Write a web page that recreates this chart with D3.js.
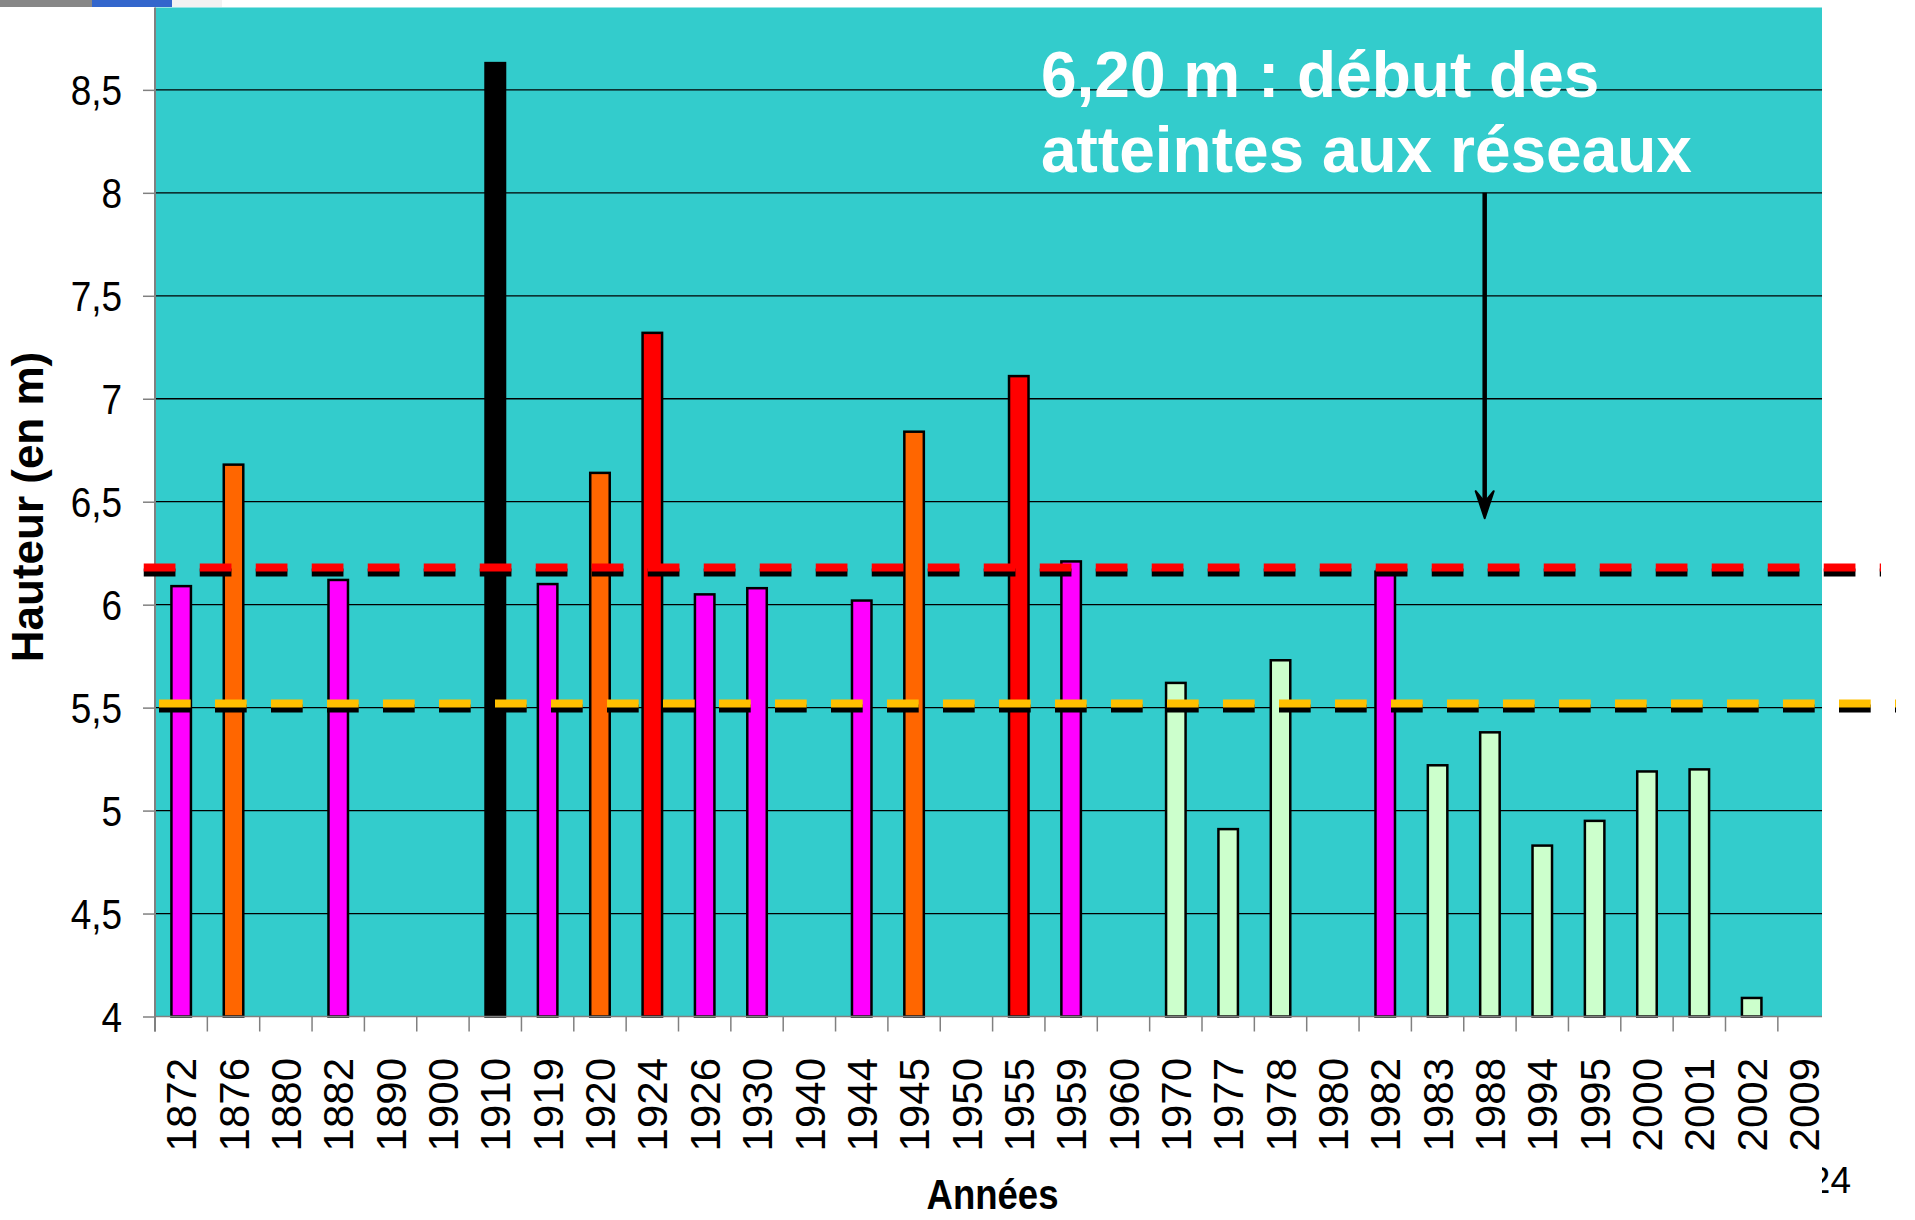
<!DOCTYPE html>
<html>
<head>
<meta charset="utf-8">
<script src="https://cdn.jsdelivr.net/npm/d3@7"></script>
<style>
  body { margin: 0; background: #fff; }
  text { font-family: "Liberation Sans", Arial, sans-serif; }
</style>
</head>
<body>
<div id="container"></div>
<script>
const WIDTH = 1915,
      HEIGHT = 1220;

const margin = { top: 7.5, left: 155 };
const plotRight = 1822,
      plotBottom = 1016.5;

// données
const years = ['1872', '1876', '1880', '1882', '1890', '1900', '1910', '1919', '1920', '1924',
               '1926', '1930', '1940', '1944', '1945', '1950', '1955', '1959', '1960', '1970',
               '1977', '1978', '1980', '1982', '1983', '1988', '1994', '1995', '2000', '2001',
               '2002', '2009'];
const heights = [6.09, 6.68, null, 6.12, null, null, 8.63, 6.10, 6.64, 7.32,
                 6.05, 6.08, null, 6.02, 6.84, null, 7.11, 6.21, null, 5.62,
                 4.91, 5.73, null, 6.16, 5.22, 5.38, 4.83, 4.95, 5.19, 5.20,
                 4.09, null];
const classes = ['m', 'o', null, 'm', null, null, 'k', 'm', 'o', 'r',
                 'm', 'm', null, 'm', 'o', null, 'r', 'm', null, 'g',
                 'g', 'g', null, 'm', 'g', 'g', 'g', 'g', 'g', 'g',
                 'g', null];
const yTicks = [4, 4.5, 5, 5.5, 6, 6.5, 7, 7.5, 8, 8.5];
const seuilRouge = 6.18,
      seuilJaune = 5.52;
const flecheDe = 8, flecheA = 6.42, flecheAnnee = '1988';
const annotation = ['6,20 m : début des', 'atteintes aux réseaux'];

const couleurs = { m: '#FF00FF', o: '#FF6600', r: '#FF0000', k: '#000000', g: '#CCFFCC' };

const svg = d3.select('#container')
    .append('svg')
    .attr('width', WIDTH)
    .attr('height', HEIGHT);

// bandeau en haut à gauche
svg.append('rect').attr('x', 0).attr('y', 0).attr('width', 92).attr('height', 7).attr('fill', '#878787');
svg.append('rect').attr('x', 92).attr('y', 0).attr('width', 80).attr('height', 7).attr('fill', '#3366CC');
svg.append('rect').attr('x', 172).attr('y', 0).attr('width', 50).attr('height', 7).attr('fill', '#F2F2F2');

const xScale = d3.scaleBand()
    .domain(years)
    .range([margin.left, margin.left + 32 * 52.35]);

const yScale = d3.scaleLinear()
    .domain([4, 8.9])
    .range([plotBottom, margin.top]);

svg.append('rect')
    .attr('x', margin.left)
    .attr('y', yScale(8.9))
    .attr('width', plotRight - margin.left)
    .attr('height', yScale(4) - yScale(8.9))
    .attr('fill', '#33CCCC');

// grille
svg.append('g')
    .selectAll('line')
    .data(yTicks.slice(1))
    .join('line')
    .attr('x1', margin.left)
    .attr('x2', plotRight)
    .attr('y1', d => yScale(d))
    .attr('y2', d => yScale(d))
    .attr('stroke', '#000')
    .attr('stroke-width', 1.3);

// barres
const data = years.map((y, i) => ({ year: y, value: heights[i], cls: classes[i] }))
                  .filter(d => d.value !== null);
const barW = xScale.bandwidth() * 0.3725;

svg.append('g')
    .selectAll('rect')
    .data(data)
    .join('rect')
    .attr('x', d => xScale(d.year) + xScale.bandwidth() / 2 - barW / 2)
    .attr('y', d => yScale(d.value))
    .attr('width', barW)
    .attr('height', d => yScale(4) - yScale(d.value))
    .attr('fill', d => couleurs[d.cls])
    .attr('stroke', '#000')
    .attr('stroke-width', 2.5);

// axes
const yAxis = d3.axisLeft(yScale)
    .tickValues(yTicks)
    .tickSize(12)
    .tickFormat(d => String(d).replace('.', ','));

const gy = svg.append('g')
    .attr('transform', `translate(${margin.left},0)`)
    .call(yAxis);
gy.select('.domain').remove();
gy.selectAll('line').attr('stroke', '#808080').attr('stroke-width', 1.5);
gy.selectAll('text')
    .attr('x', 0)
    .attr('dy', '0.36em')
    .attr('transform', 'translate(-33,0) scale(0.88,1)')
    .attr('font-size', 42)
    .attr('fill', '#000')
    .attr('font-family', '"Liberation Sans", Arial, sans-serif');

svg.append('line')
    .attr('x1', margin.left).attr('x2', margin.left)
    .attr('y1', yScale(8.9)).attr('y2', plotBottom + 15)
    .attr('stroke', '#808080').attr('stroke-width', 2);

const xTickPos = years.map(y => xScale(y));
svg.append('g')
    .selectAll('line')
    .data(xTickPos)
    .join('line')
    .attr('x1', d => d).attr('x2', d => d)
    .attr('y1', plotBottom).attr('y2', plotBottom + 15)
    .attr('stroke', '#808080').attr('stroke-width', 1.5);

svg.append('line')
    .attr('x1', margin.left).attr('x2', plotRight)
    .attr('y1', plotBottom).attr('y2', plotBottom)
    .attr('stroke', '#808080').attr('stroke-width', 1.5);

svg.append('g')
    .selectAll('text')
    .data(years)
    .join('text')
    .attr('transform', d => `translate(${xScale(d) + xScale.bandwidth() / 2},1058) rotate(-90)`)
    .attr('dy', '0.36em')
    .attr('text-anchor', 'end')
    .attr('font-size', 42)
    .text(d => d);

// lignes de seuil (avec ombre noire)
const seuils = [
    { value: seuilRouge, color: '#FF0000', x1: margin.left - 11.25, x2: plotRight + 59 },
    { value: seuilJaune, color: '#FFC000', x1: margin.left + 4, x2: plotRight + 74 }
];
const gs = svg.append('g');
seuils.forEach(s => {
    gs.append('line')
        .attr('x1', s.x1).attr('x2', s.x2)
        .attr('y1', yScale(s.value) + 5).attr('y2', yScale(s.value) + 5)
        .attr('stroke', '#000').attr('stroke-width', 8)
        .attr('stroke-dasharray', '31.7 24.3');
    gs.append('line')
        .attr('x1', s.x1).attr('x2', s.x2)
        .attr('y1', yScale(s.value)).attr('y2', yScale(s.value))
        .attr('stroke', s.color).attr('stroke-width', 8)
        .attr('stroke-dasharray', '31.7 24.3');
});

// flèche
const xf = xScale(flecheAnnee) + xScale.bandwidth() * 0.4;
const tip = yScale(flecheA);
svg.append('line')
    .attr('x1', xf).attr('x2', xf)
    .attr('y1', yScale(flecheDe)).attr('y2', tip - 8)
    .attr('stroke', '#000').attr('stroke-width', 4.5);
svg.append('path')
    .attr('d', `M${xf - 9},${tip - 27} L${xf},${tip} L${xf + 9},${tip - 27} L${xf},${tip - 16} Z`)
    .attr('fill', '#000')
    .attr('stroke', '#000')
    .attr('stroke-width', 2)
    .attr('stroke-linejoin', 'round');

// texte
svg.append('g')
    .selectAll('text')
    .data(annotation)
    .join('text')
    .attr('x', xScale('1959') - 4)
    .attr('y', (d, i) => 96.5 + i * 75)
    .attr('font-size', 64)
    .attr('font-weight', 'bold')
    .attr('fill', '#fff')
    .text(d => d);

svg.append('text')
    .attr('transform', 'translate(43,507) rotate(-90)')
    .attr('text-anchor', 'middle')
    .attr('font-size', 44)
    .attr('font-weight', 'bold')
    .text('Hauteur (en m)');

svg.append('text')
    .attr('transform', `translate(${(margin.left + plotRight) / 2 + 4},1209) scale(0.85,1)`)
    .attr('text-anchor', 'middle')
    .attr('font-size', 43)
    .attr('font-weight', 'bold')
    .text('Années');

// numéro de page, partiellement caché
svg.append('clipPath').attr('id', 'clipNum')
    .append('rect').attr('x', plotRight).attr('y', 1140).attr('width', 100).attr('height', 80);
svg.append('text')
    .attr('x', 1851)
    .attr('y', 1193)
    .attr('text-anchor', 'end')
    .attr('font-size', 37)
    .attr('clip-path', 'url(#clipNum)')
    .text('24');
</script>
</body>
</html>
